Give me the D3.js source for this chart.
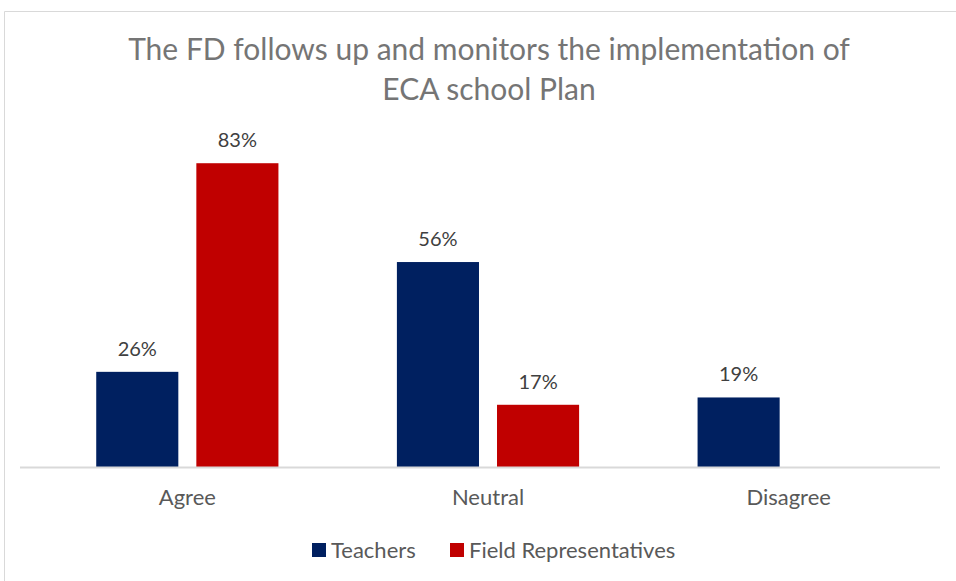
<!DOCTYPE html>
<html>
<head>
<meta charset="utf-8">
<script src="https://cdn.jsdelivr.net/npm/d3@7"></script>
<style>
  html, body { margin: 0; padding: 0; background: #fff; }
  svg { display: block; font-family: Lato, "Open Sans", sans-serif; }
</style>
</head>
<body>
<svg id="chart" width="956" height="581"></svg>
<script>
// Survey responses (percent)
const categories = ["Agree", "Neutral", "Disagree"];
const seriesNames = ["Teachers", "Field Representatives"];
const teachers = [26, 56, 19];
const fieldReps = [83, 17, null];
const titleLines = ["The FD follows up and monitors the implementation of", "ECA school Plan"];

const colors = { "Teachers": "#002060", "Field Representatives": "#C00000" };
const seriesValues = { "Teachers": teachers, "Field Representatives": fieldReps };

const svg = d3.select("#chart");

// chart frame
svg.append("path")
  .attr("d", "M4.5,581 L4.5,11.5 L956,11.5")
  .attr("fill", "none")
  .attr("stroke", "#d9d9d9")
  .attr("stroke-width", 1);

// title
const title = svg.append("text")
  .attr("x", 478)
  .attr("text-anchor", "middle")
  .attr("fill", "#757575")
  .attr("font-size", 30);
titleLines.forEach((line, i) => {
  title.append("tspan").attr("x", 489).attr("y", 60 + i * 40).text(line);
});

const baseline = 467;
const x0 = d3.scaleBand().domain(categories).range([37, 939]);
const x1 = d3.scaleBand().domain(seriesNames)
  .range([x0.bandwidth() * 0.197, x0.bandwidth() * 0.803])
  .paddingInner(0.18);
const y = d3.scaleLinear().domain([0, 100]).range([baseline, baseline - 366]);

const rows = categories.map((c, i) => ({
  category: c,
  values: seriesNames.map(s => ({ series: s, value: seriesValues[s][i] }))
}));

const groups = svg.append("g").selectAll("g")
  .data(rows)
  .join("g")
  .attr("transform", d => `translate(${x0(d.category)},0)`);

const bars = groups.selectAll("g")
  .data(d => d.values.filter(v => v.value != null && v.value > 0))
  .join("g");

bars.append("rect")
  .attr("x", d => x1(d.series))
  .attr("y", d => y(d.value))
  .attr("width", x1.bandwidth())
  .attr("height", d => baseline - y(d.value))
  .attr("fill", d => colors[d.series]);

bars.append("text")
  .attr("x", d => x1(d.series) + x1.bandwidth() / 2)
  .attr("y", d => y(d.value) - 16)
  .attr("text-anchor", "middle")
  .attr("fill", "#404040")
  .attr("font-size", 20)
  .text(d => d.value + "%");

// category axis
const xAxis = svg.append("g")
  .attr("transform", `translate(0,${baseline})`)
  .call(d3.axisBottom(x0).tickSize(0).tickPadding(22));
xAxis.select(".domain").remove();
xAxis.append("line")
  .attr("x1", 20).attr("x2", 940)
  .attr("y1", 0.5).attr("y2", 0.5)
  .attr("stroke", "#d9d9d9").attr("stroke-width", 2);
xAxis.selectAll(".tick text")
  .attr("font-size", 22)
  .attr("font-family", "Lato, sans-serif")
  .attr("fill", "#595959");

// legend
const legend = svg.append("g").attr("transform", "translate(312,550)");
const legendOffsets = [0, 138];
seriesNames.forEach((s, i) => {
  const g = legend.append("g").attr("transform", `translate(${legendOffsets[i]},0)`);
  g.append("rect").attr("x", 0).attr("y", -7).attr("width", 14).attr("height", 14)
    .attr("fill", colors[s]);
  g.append("text").attr("x", 19).attr("y", 8)
    .attr("font-size", 22).attr("fill", "#595959").text(s);
});
</script>
</body>
</html>
